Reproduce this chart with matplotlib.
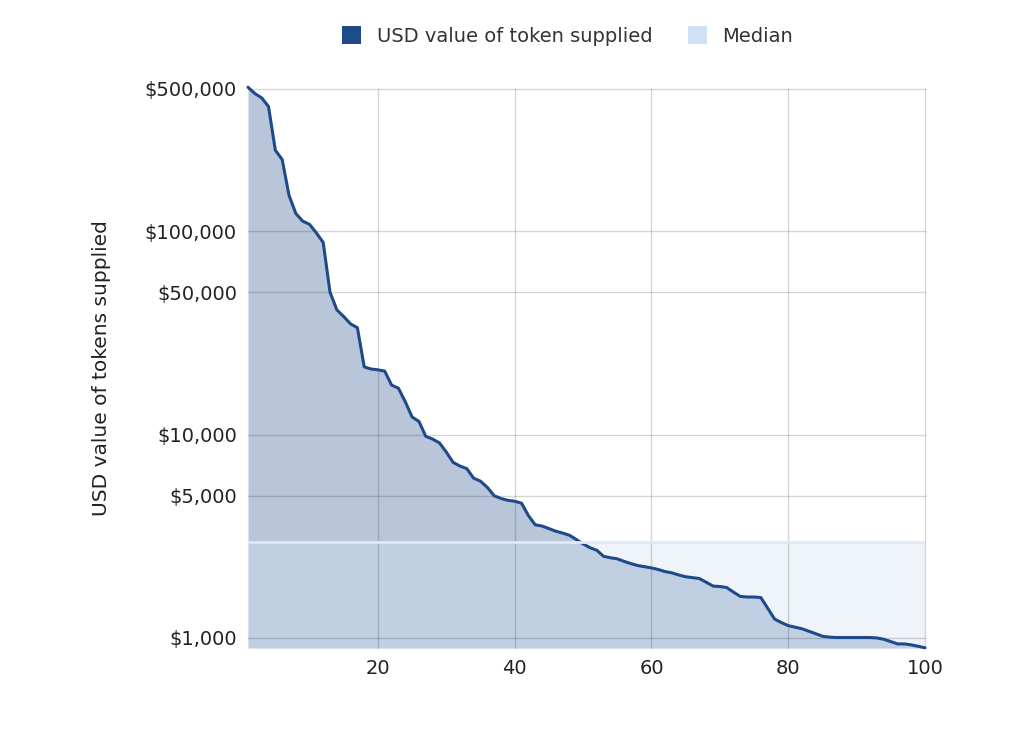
import matplotlib.pyplot as plt
from matplotlib.patches import Patch
from matplotlib.ticker import FixedLocator, NullLocator

# rank of each token (1..100) and USD value supplied
ranks = list(range(1, 101))
usd_supplied = [
    510000, 475000, 452000, 410000, 250000, 225000, 150000, 122000, 112000, 108000,
    98000, 88000, 50000, 41000, 38000, 35000, 33500, 21500, 21000, 20800,
    20500, 17500, 16900, 14500, 12200, 11600, 9800, 9500, 9100, 8200,
    7300, 7000, 6800, 6100, 5900, 5500, 5000, 4850, 4750, 4700,
    4600, 4000, 3600, 3550, 3450, 3350, 3280, 3200, 3050, 2900,
    2780, 2700, 2520, 2480, 2450, 2380, 2320, 2270, 2240, 2210,
    2170, 2120, 2090, 2040, 2000, 1980, 1960, 1880, 1800, 1790,
    1770, 1680, 1600, 1590, 1590, 1580, 1400, 1240, 1190, 1150,
    1130, 1110, 1080, 1050, 1020, 1010, 1005, 1005, 1005, 1005,
    1005, 1005, 1000, 985, 960, 935, 935, 925, 910, 895,
]
median_value = 2950

y_ticks = [1000, 5000, 10000, 50000, 100000, 500000]
y_tick_labels = ["$1,000", "$5,000", "$10,000", "$50,000", "$100,000", "$500,000"]
x_ticks = [20, 40, 60, 80, 100]

line_color = "#1f4a8a"
fill_color = "#b9c6da"
median_color = "#cfe2f3"

fig = plt.figure(figsize=(10.32, 7.34), dpi=100)
ax = fig.add_axes([0.2403, 0.1172, 0.656, 0.7616])

ymin = 893
ax.fill_between(ranks, usd_supplied, ymin, color=fill_color, zorder=1, linewidth=0)
ax.plot(ranks, usd_supplied, color=line_color, linewidth=2.2, zorder=3,
        solid_joinstyle="round", solid_capstyle="round", clip_on=False)

# median band
ax.fill_between([ranks[0], ranks[-1]], median_value, ymin, color=median_color,
                alpha=0.35, zorder=2, linewidth=0)
ax.plot([ranks[0], ranks[-1]], [median_value, median_value], color="#dfeaf6",
        linewidth=2.0, zorder=4)

ax.set_yscale("log")
ax.set_ylim(ymin, 500000)
ax.set_xlim(1, 100)
ax.yaxis.set_major_locator(FixedLocator(y_ticks))
ax.yaxis.set_minor_locator(NullLocator())
ax.set_yticklabels(y_tick_labels)
ax.set_xticks(x_ticks)

for s in ax.spines.values():
    s.set_visible(False)
ax.grid(True, color="black", alpha=0.16, linewidth=1.0, zorder=5)
ax.set_axisbelow(False)
for gl in ax.get_xgridlines() + ax.get_ygridlines():
    gl.set_clip_on(False)
ax.tick_params(axis="both", length=0, labelsize=14, labelcolor="#222222")
ax.tick_params(axis="y", pad=8)
ax.tick_params(axis="x", pad=8)

ax.set_ylabel("USD value of tokens supplied", fontsize=14.5, color="#222222", labelpad=24)

handles = [
    Patch(facecolor=line_color, edgecolor="none", label="USD value of token supplied"),
    Patch(facecolor=median_color, edgecolor="none", label="Median"),
]
fig.legend(handles=handles, loc="center", bbox_to_anchor=(0.55, 0.951), ncol=2,
           frameon=False, fontsize=14, handlelength=1.0, handleheight=1.0,
           columnspacing=1.8, handletextpad=0.8, labelcolor="#333333")

fig.savefig("out.png", dpi=100)
